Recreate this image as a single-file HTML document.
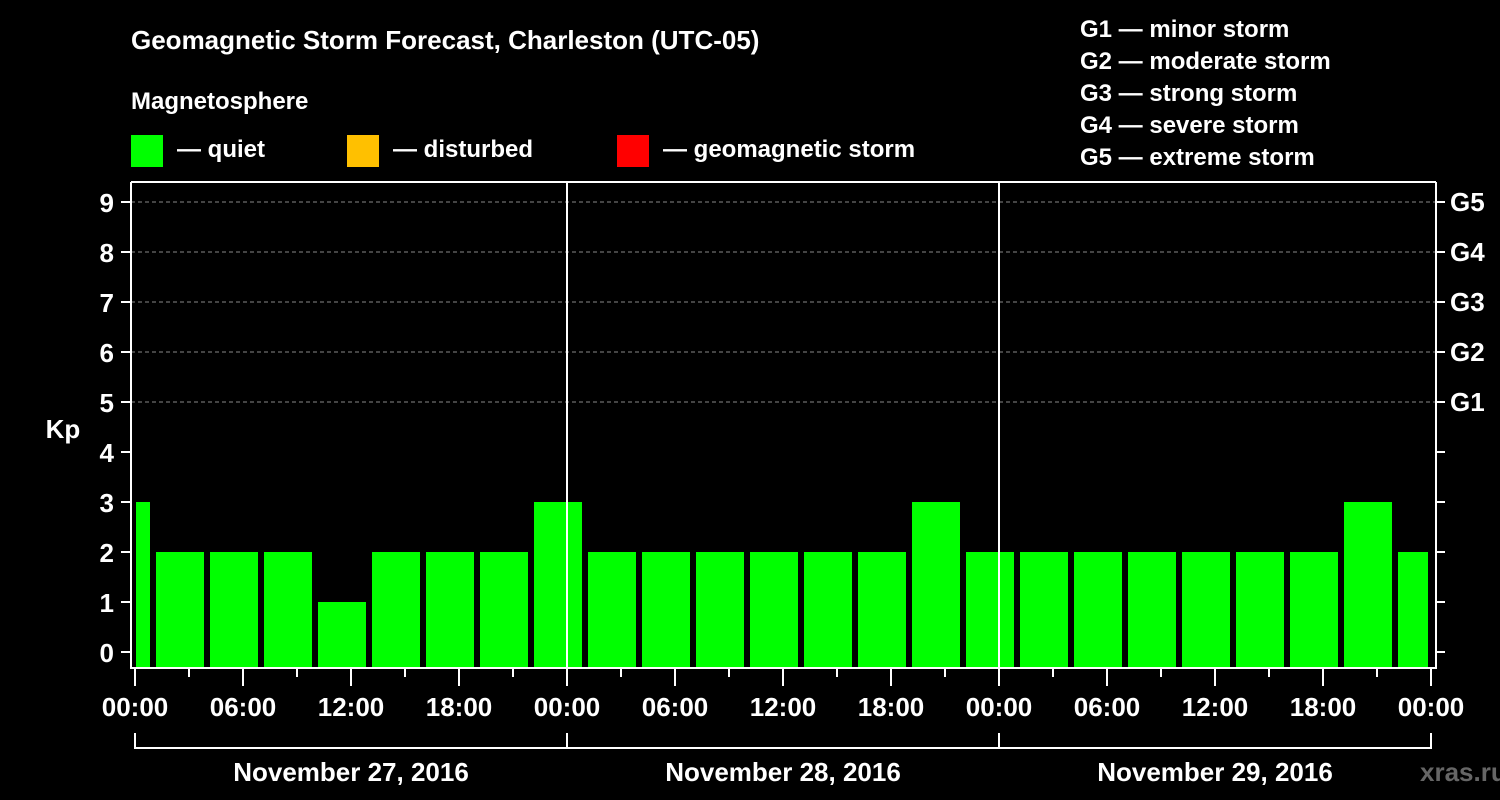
<!DOCTYPE html>
<html><head><meta charset="utf-8"><style>
body{margin:0;background:#000;}
svg{display:block;font-family:"Liberation Sans",Arial,sans-serif;font-weight:bold;}
</style></head><body>
<svg id="c" width="1500" height="800" viewBox="0 0 1500 800">
<rect width="1500" height="800" fill="#000"/>
<text x="131" y="49" fill="#fff" font-size="26">Geomagnetic Storm Forecast, Charleston (UTC-05)</text>
<text x="131" y="109" fill="#fff" font-size="24">Magnetosphere</text>
<g><rect x="131" y="135" width="32" height="32" fill="#00ff00"/><text x="177" y="157" fill="#fff" font-size="24">— quiet</text></g>
<g><rect x="347" y="135" width="32" height="32" fill="#ffc000"/><text x="393" y="157" fill="#fff" font-size="24">— disturbed</text></g>
<g><rect x="617" y="135" width="32" height="32" fill="#ff0000"/><text x="663" y="157" fill="#fff" font-size="24">— geomagnetic storm</text></g>
<g fill="#fff" font-size="24">
<text x="1080" y="37">G1 — minor storm</text>
<text x="1080" y="69">G2 — moderate storm</text>
<text x="1080" y="101">G3 — strong storm</text>
<text x="1080" y="133">G4 — severe storm</text>
<text x="1080" y="165">G5 — extreme storm</text>
</g>
<text x="63" y="438" fill="#fff" font-size="26" text-anchor="middle">Kp</text>
<text x="1420" y="781" fill="#666" font-size="26">xras.ru</text>
<g id="g"></g>
</svg>
<script>
const kpValues=[3,2,2,2,1,2,2,2,3,2,2,2,2,2,2,3,2,2,2,2,2,2,2,3,2];
const binStartHours=[-2,1,4,7,10,13,16,19,22,25,28,31,34,37,40,43,46,49,52,55,58,61,64,67,70];
const yTicks=[0,1,2,3,4,5,6,7,8,9];
const gLevels=[{kp:5,l:"G1"},{kp:6,l:"G2"},{kp:7,l:"G3"},{kp:8,l:"G4"},{kp:9,l:"G5"}];
const xTickLabels=["00:00","06:00","12:00","18:00","00:00","06:00","12:00","18:00","00:00","06:00","12:00","18:00","00:00"];
const dayLabels=["November 27, 2016","November 28, 2016","November 29, 2016"];
const X=h=>135+h*18, Y=v=>652-v*50;
const L=131,R=1436,T=182,B=668;
const g=document.getElementById('g'),NS="http://www.w3.org/2000/svg";
function mk(t,a,txt){const e=document.createElementNS(NS,t);for(const k in a)e.setAttribute(k,a[k]);if(txt!=null)e.textContent=txt;g.appendChild(e);return e;}
// grid
gLevels.forEach(d=>{
 const e=mk('line',{x1:L,x2:R,y1:Y(d.kp),y2:Y(d.kp),stroke:'#888','stroke-dasharray':'4,3','stroke-width':1});
 
 
 const t=mk('text',{x:1450,y:Y(d.kp)+9,fill:'#fff','font-size':26},d.l);
 
 
});
// bars
kpValues.forEach((v,i)=>{
 const s=Math.max(0,binStartHours[i]),e=Math.min(72,binStartHours[i]+3);
 const x1=X(s)+(binStartHours[i]<0?1:3),x2=X(e)-3;
 const r=mk('rect',{x:x1,y:Y(v),width:x2-x1,height:B-Y(v),fill:v>=5?'#ff0000':(v>=4?'#ffc000':'#00ff00')});
 
 
});
// frame
[[L,T,R,T],[L,T,L,B+1],[L,B,R,B],[R,T,R,B+1],[X(24),T,X(24),B],[X(48),T,X(48),B]].forEach(p=>{
 const e=mk('line',{x1:p[0],y1:p[1],x2:p[2],y2:p[3],stroke:'#fff','stroke-width':2});
 
 
});
yTicks.forEach(v=>{
 mk('line',{x1:L-10,x2:L,y1:Y(v),y2:Y(v),stroke:'#fff','stroke-width':2});
 mk('line',{x1:R,x2:R+9,y1:Y(v),y2:Y(v),stroke:'#fff','stroke-width':2});
 const t=mk('text',{x:114,y:Y(v)+10,fill:'#fff','font-size':26,'text-anchor':'end'},String(v));
 
 
});
for(let h=0;h<=72;h+=3){
 mk('line',{x1:X(h),x2:X(h),y1:B,y2:B+(h%6==0?18:9),stroke:'#fff','stroke-width':2});
}
xTickLabels.forEach((l,i)=>{
 const t=mk('text',{x:X(i*6),y:716,fill:'#fff','font-size':26,'text-anchor':'middle'},l);
 
 
});
mk('line',{x1:X(0),x2:X(72),y1:748,y2:748,stroke:'#fff','stroke-width':2});
for(let d=0;d<=3;d++)mk('line',{x1:X(d*24),x2:X(d*24),y1:733,y2:749,stroke:'#fff','stroke-width':2});
dayLabels.forEach((l,i)=>{
 const t=mk('text',{x:X(i*24+12),y:781,fill:'#fff','font-size':26,'text-anchor':'middle'},l);
 
 
});
</script>
</body></html>
